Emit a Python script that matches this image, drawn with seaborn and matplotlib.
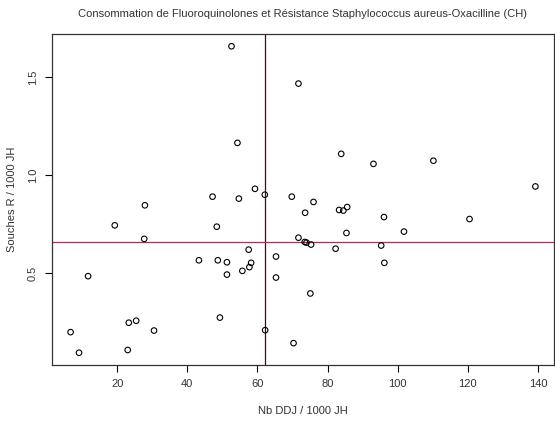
import numpy as np
import pandas as pd
import seaborn as sns
import matplotlib
matplotlib.use('Agg')
import matplotlib.pyplot as plt

# consommation (DDJ / 1000 JH) and resistant strains (R / 1000 JH)
ddj = [52.6, 71.7, 54.3, 59.3, 47.2, 54.7, 62.1, 69.8, 27.9, 19.3,
       48.4, 27.7, 71.7, 57.5, 65.3, 43.3, 48.7, 51.3, 58.2, 57.7,
       55.7, 51.3, 11.7, 65.3, 49.3, 25.4, 23.3, 30.5, 6.7, 62.2,
       9.1, 23.0, 70.3, 83.9, 93.1, 110.2, 139.3, 76.0, 73.6, 83.3,
       84.5, 85.6, 96.1, 120.5, 101.8, 73.5, 74.0, 75.3, 85.4, 82.3,
       95.3, 96.2, 75.1]
souches_r = [1.656, 1.466, 1.164, 0.930, 0.890, 0.880, 0.900, 0.890, 0.846, 0.744,
             0.737, 0.675, 0.681, 0.620, 0.585, 0.566, 0.566, 0.556, 0.553, 0.531,
             0.512, 0.493, 0.485, 0.478, 0.274, 0.258, 0.248, 0.208, 0.200, 0.210,
             0.095, 0.109, 0.144, 1.108, 1.057, 1.073, 0.942, 0.863, 0.808, 0.822,
             0.819, 0.837, 0.786, 0.776, 0.712, 0.659, 0.656, 0.646, 0.705, 0.625,
             0.641, 0.553, 0.397]

# reference lines
ref_ddj = 62.3
ref_r = 0.658

x_ticks = [20, 40, 60, 80, 100, 120, 140]
y_ticks = [0.5, 1.0, 1.5]

df = pd.DataFrame({'ddj': ddj, 'r': souches_r})

sns.set_style('ticks')
plt.rcParams['font.family'] = ['Liberation Sans', 'DejaVu Sans']

fig = plt.figure(figsize=(5.55, 4.21), dpi=100)
ax = fig.add_axes([52 / 555, 1 - 365 / 421, 502 / 555, 331 / 421])

sns.scatterplot(data=df, x='ddj', y='r', ax=ax, marker='o', s=16,
                facecolor='none', edgecolor='black', linewidth=0.8, zorder=3)

ax.axvline(ref_ddj, color='#3a0a22', linewidth=0.9, zorder=2)
ax.axhline(ref_r, color='#b22a5e', linewidth=0.9, zorder=2)

# R-like 4% padding
xr = max(ddj) - min(ddj)
yr = max(souches_r) - min(souches_r)
ax.set_xlim(min(ddj) - 0.04 * xr, max(ddj) + 0.04 * xr)
ax.set_ylim(min(souches_r) - 0.04 * yr, max(souches_r) + 0.04 * yr)

ax.set_xticks(x_ticks)
ax.set_yticks(y_ticks)
ax.set_yticklabels(['0.5', '1.0', '1.5'], rotation=90, va='center')
ax.tick_params(axis='both', labelsize=8, length=5, width=0.8, color='black',
               labelcolor='#333333', pad=5)

for s in ax.spines.values():
    s.set_visible(True)
    s.set_color('#333333')
    s.set_linewidth(0.9)

ax.set_xlabel('Nb DDJ / 1000 JH', fontsize=8, color='#333333', labelpad=12)
ax.set_ylabel('Souches R / 1000 JH', fontsize=8, color='#333333', labelpad=8)
ax.set_title('Consommation de Fluoroquinolones et Résistance Staphylococcus aureus-Oxacilline (CH)',
             fontsize=8, color='#333333', pad=12.5)

fig.savefig('out.png', dpi=100)
